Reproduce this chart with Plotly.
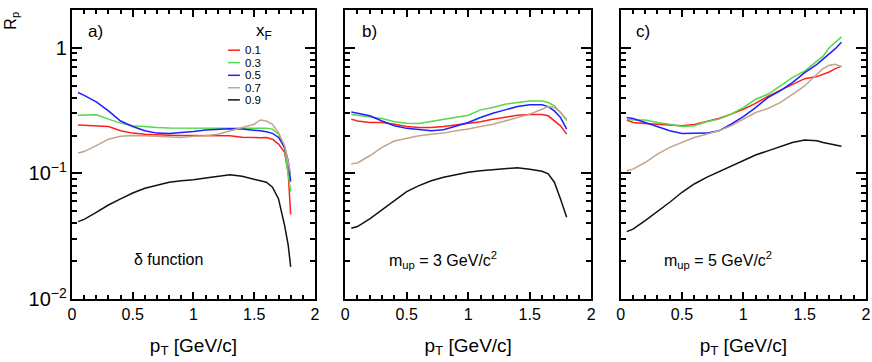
import math

import plotly.graph_objects as go

# p_T grids (GeV/c)
PT_A = [0.05, 0.1, 0.2, 0.3, 0.4, 0.5, 0.6, 0.7, 0.8, 0.9, 1.0, 1.1, 1.2, 1.3, 1.4,
        1.5, 1.55, 1.6, 1.65, 1.7, 1.75, 1.78, 1.8]
PT_BC = [0.05, 0.1, 0.2, 0.3, 0.4, 0.5, 0.6, 0.7, 0.8, 0.9, 1.0, 1.1, 1.2, 1.3, 1.4,
         1.5, 1.6, 1.65, 1.7, 1.75, 1.8]

XF_LABELS = ["0.1", "0.3", "0.5", "0.7", "0.9"]

# a) delta function
A_01 = [0.243, 0.242, 0.240, 0.236, 0.218, 0.209, 0.205, 0.202, 0.201, 0.200, 0.200, 0.199,
        0.199, 0.199, 0.194, 0.191, 0.192, 0.193, 0.187, 0.171, 0.147, 0.100, 0.047]
A_03 = [0.290, 0.290, 0.292, 0.270, 0.251, 0.239, 0.234, 0.232, 0.230, 0.229, 0.229, 0.228,
        0.228, 0.228, 0.228, 0.229, 0.229, 0.229, 0.225, 0.205, 0.156, 0.100, 0.072]
A_05 = [0.440, 0.418, 0.370, 0.314, 0.261, 0.236, 0.218, 0.209, 0.208, 0.211, 0.215, 0.221,
        0.225, 0.226, 0.225, 0.221, 0.218, 0.214, 0.208, 0.193, 0.161, 0.125, 0.086]
A_07 = [0.145, 0.149, 0.166, 0.187, 0.197, 0.200, 0.199, 0.197, 0.194, 0.193, 0.197, 0.199,
        0.205, 0.218, 0.234, 0.246, 0.266, 0.261, 0.246, 0.211, 0.166, 0.120, 0.100]
A_09 = [0.0413, 0.043, 0.049, 0.056, 0.0626, 0.0698, 0.076, 0.0807, 0.085, 0.0874, 0.089, 0.092,
        0.0947, 0.0976, 0.0947, 0.090, 0.088, 0.085, 0.0775, 0.0626, 0.0385, 0.0267, 0.018]

# b) m_up = 3 GeV/c^2
B_01 = [0.270, 0.261, 0.254, 0.254, 0.246, 0.236, 0.232, 0.232, 0.236, 0.242, 0.248, 0.257,
        0.270, 0.281, 0.290, 0.294, 0.294, 0.287, 0.261, 0.239, 0.205]
B_03 = [0.294, 0.290, 0.283, 0.273, 0.257, 0.251, 0.249, 0.259, 0.270, 0.280, 0.290, 0.320,
        0.334, 0.355, 0.366, 0.377, 0.377, 0.366, 0.344, 0.305, 0.263]
B_05 = [0.308, 0.301, 0.287, 0.261, 0.239, 0.228, 0.222, 0.218, 0.222, 0.239, 0.254, 0.278,
        0.301, 0.320, 0.340, 0.351, 0.351, 0.340, 0.314, 0.278, 0.225]
B_07 = [0.119, 0.121, 0.138, 0.161, 0.181, 0.190, 0.199, 0.205, 0.209, 0.218, 0.225, 0.236,
        0.246, 0.261, 0.278, 0.296, 0.324, 0.340, 0.334, 0.305, 0.270]
B_09 = [0.0366, 0.0377, 0.0434, 0.0515, 0.0607, 0.0715, 0.0798, 0.0874, 0.093, 0.0976, 0.1019,
        0.105, 0.107, 0.110, 0.111, 0.108, 0.104, 0.099, 0.085, 0.0626, 0.0448]

# c) m_up = 5 GeV/c^2
C_01 = [0.266, 0.254, 0.249, 0.246, 0.243, 0.239, 0.245, 0.257, 0.273, 0.296, 0.324, 0.360,
        0.410, 0.458, 0.511, 0.567, 0.589, 0.614, 0.641, 0.681, 0.714]
C_03 = [0.270, 0.266, 0.266, 0.254, 0.246, 0.236, 0.239, 0.257, 0.270, 0.296, 0.334, 0.389,
        0.426, 0.496, 0.578, 0.652, 0.783, 0.857, 1.000, 1.107, 1.220]
C_05 = [0.278, 0.273, 0.254, 0.236, 0.218, 0.208, 0.208, 0.209, 0.218, 0.246, 0.283, 0.334,
        0.401, 0.453, 0.527, 0.634, 0.737, 0.807, 0.885, 0.982, 1.107]
C_07 = [0.105, 0.108, 0.122, 0.142, 0.161, 0.176, 0.193, 0.205, 0.218, 0.239, 0.270, 0.305,
        0.328, 0.366, 0.426, 0.496, 0.614, 0.681, 0.724, 0.737, 0.706]
C_09 = [0.0344, 0.0360, 0.0421, 0.0496, 0.0589, 0.0707, 0.0823, 0.093, 0.103, 0.115, 0.126,
        0.140, 0.151, 0.163, 0.176, 0.184, 0.182, 0.176, 0.171, 0.168, 0.164]

COLORS = ["#ff1f1f", "#55d84a", "#1f1fff", "#c4a48a", "#111111"]
FONT = "Liberation Sans, Arial, Helvetica, sans-serif"

panels = [
    (PT_A, [A_01, A_03, A_05, A_07, A_09], "a)", "δ function"),
    (PT_BC, [B_01, B_03, B_05, B_07, B_09], "b)", "m<sub>up</sub> = 3 GeV/c<sup>2</sup>"),
    (PT_BC, [C_01, C_03, C_05, C_07, C_09], "c)", "m<sub>up</sub> = 5 GeV/c<sup>2</sup>"),
]
domains = [[0.0, 0.306], [0.344, 0.654], [0.691, 1.0]]
label_x = [0.095, 0.10, 0.09]

X_RANGE = [0, 2]
Y_RANGE = [-2, 0.3]  # log10
minor_x = [round(0.1 * k, 1) for k in range(21) if k % 5]
# minor y ticks at 2..9 x 10^d, placed on a plain axis that runs in log10 units
minor_y = [math.log10(k * 10 ** d) for d in (-2, -1, 0) for k in range(2, 10)
           if k * 10 ** d < 2]


def ann(text, xref, yref, x, y, size, **kw):
    fig.add_annotation(text=text, xref=xref, yref=yref, x=x, y=y, showarrow=False,
                       xanchor=kw.pop("xanchor", "center"), yanchor="middle",
                       font=dict(size=size), **kw)


fig = go.Figure()
for i, (pt, series, tag, note) in enumerate(panels):
    sfx = "" if i == 0 else str(i + 1)
    for lab, ys, col in zip(XF_LABELS, series, COLORS):
        fig.add_trace(go.Scatter(
            x=pt, y=ys, mode="lines", name=lab, showlegend=False,
            line=dict(color=col, width=1.5),
            xaxis="x" + sfx, yaxis="y" + sfx,
        ))
    ann(tag, f"x{sfx} domain", f"y{sfx} domain", label_x[i], 0.927, 17)
    ann(note, f"x{sfx} domain", f"y{sfx} domain", 0.397, 0.135, 16)

# legend (panel a)
ann("x<sub>F</sub>", "x domain", "y domain", 0.79, 0.924, 17)
leg_y = [0.861, 0.818, 0.774, 0.731, 0.689]
for lab, col, yy in zip(XF_LABELS, COLORS, leg_y):
    fig.add_shape(type="line", xref="x domain", yref="y domain",
                  x0=0.642, x1=0.691, y0=yy, y1=yy, line=dict(color=col, width=1.5))
    ann(lab, "x domain", "y domain", 0.708, yy, 11.5, xanchor="left", borderpad=0)

# R_p label
ann("R<sub>p</sub>", "paper", "paper", -0.076, 0.962, 16, textangle=-90)

frame = dict(showline=True, linecolor="black", linewidth=2, showgrid=False,
             zeroline=False, automargin=False)
tick = dict(ticks="inside", tickwidth=1.5, tickcolor="black")

xaxis_style = dict(
    frame, **tick, range=X_RANGE, tickmode="linear", tick0=0, dtick=0.5, ticklen=7,
    mirror="ticks", tickfont=dict(size=16),
    title=dict(text="p<sub>T</sub> [GeV/c]", font=dict(size=19), standoff=16),
)
yaxis_style = dict(
    frame, **tick, type="log", range=Y_RANGE, tickmode="linear", tick0=0, dtick=1,
    exponentformat="power", ticklen=10, mirror="ticks", tickfont=dict(size=16),
)
# bare overlay axes carrying only the short minor ticks
xminor_style = dict(**tick, range=X_RANGE, tickmode="array", tickvals=minor_x, ticklen=4,
                    showticklabels=False, showgrid=False, zeroline=False, showline=False)
yminor_style = dict(**tick, type="linear", range=Y_RANGE, tickmode="array",
                    tickvals=minor_y, ticklen=5, showticklabels=False, showgrid=False,
                    zeroline=False, showline=False)

layout = dict(
    width=872, height=362,
    margin=dict(l=72, r=6, t=10, b=63, autoexpand=False),
    paper_bgcolor="white", plot_bgcolor="white",
    font=dict(family=FONT, color="black"),
    showlegend=False,
)
n = 4
for i, dom in enumerate(domains):
    sfx = "" if i == 0 else str(i + 1)
    layout["xaxis" + sfx] = dict(xaxis_style, domain=dom, anchor="y" + sfx)
    ya = dict(yaxis_style, anchor="x" + sfx)
    if i > 0:
        ya["showticklabels"] = False
    layout["yaxis" + sfx] = ya

    for side in ("bottom", "top"):
        layout[f"xaxis{n}"] = dict(xminor_style, overlaying="x" + sfx, anchor="y" + sfx,
                                   side=side)
        fig.add_trace(go.Scatter(x=[], y=[], xaxis=f"x{n}", yaxis="y" + sfx,
                                 showlegend=False, hoverinfo="skip"))
        n += 1
    for side in ("left", "right"):
        layout[f"yaxis{n}"] = dict(yminor_style, overlaying="y" + sfx, anchor="x" + sfx,
                                   side=side)
        fig.add_trace(go.Scatter(x=[], y=[], xaxis="x" + sfx, yaxis=f"y{n}",
                                 showlegend=False, hoverinfo="skip"))
        n += 1

fig.update_layout(**layout)
# the page's default 8px body margin would shift the whole figure
fig.write_html("out.html", config={"displayModeBar": False},
               post_script="document.body.style.margin = '0';")
